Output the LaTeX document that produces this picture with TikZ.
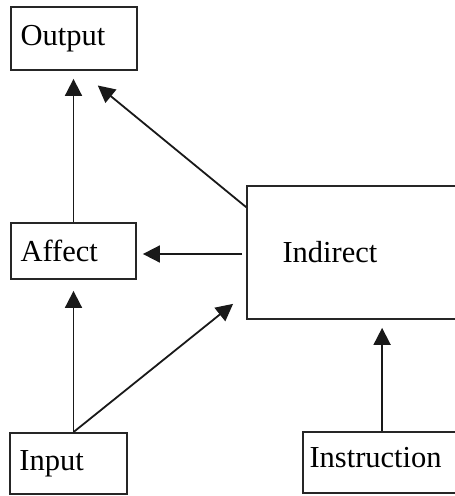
\documentclass[tikz,border=0pt]{standalone}
\usepackage{fontspec}
\setmainfont{Liberation Serif}
\usetikzlibrary{arrows.meta,calc}
\begin{document}
\begin{tikzpicture}[x=1pt,y=-1pt,
  box/.style={draw=black!85,line width=1.8pt,align=left,font=\fontsize{30.5}{36}\selectfont,inner ysep=0pt},
  arr/.style={draw=black!90,line width=1.8pt,-{Triangle[length=17pt,width=17pt]}}]
\clip (0,0) rectangle (455,496);
\fill[white] (0,0) rectangle (455,496);
\node[box,minimum width=126pt,minimum height=63pt,inner xsep=9.5pt,text width=107pt] (out) at (74,38.5) {Output};
\node[box,minimum width=125pt,minimum height=56pt,inner xsep=9.5pt,text width=106pt] (aff) at (73.5,251) {Affect};
\node[box,minimum width=230pt,minimum height=133pt,inner xsep=35.5pt,text width=159pt] (ind) at (362,252.5) {Indirect};
\node[box,minimum width=117pt,minimum height=61pt,inner xsep=9.5pt,text width=98pt] (inp) at (68.5,463.5) {Input};
\node[box,minimum width=172pt,minimum height=61pt,inner xsep=6.5pt,text width=159pt,text depth=10pt] (ins) at (389,462.5) {Instruction};
\draw[arr,shorten >=8pt] (aff.north) -- (aff.north |- out.south);
\draw[arr,shorten >=23pt] ($(ind.north west)+(0,22)$) -- ($(out.south)+(6,0)$);
\draw[arr,shorten <=4pt,shorten >=6pt] ($(ind.west)+(0,1.5)$) -- ($(aff.east)+(0,3)$);
\draw[arr,shorten >=11pt] (inp.north -| aff.south) -- (aff.south);
\draw[arr,shorten >=16.7pt] (inp.north -| aff.south) -- ($(ind.south west)+(0,-26.5)$);
\draw[arr,shorten >=8pt] ($(ins.north west)+(80,0)$) -- ($(ind.south west)+(136,0)$);
\end{tikzpicture}
\end{document}
